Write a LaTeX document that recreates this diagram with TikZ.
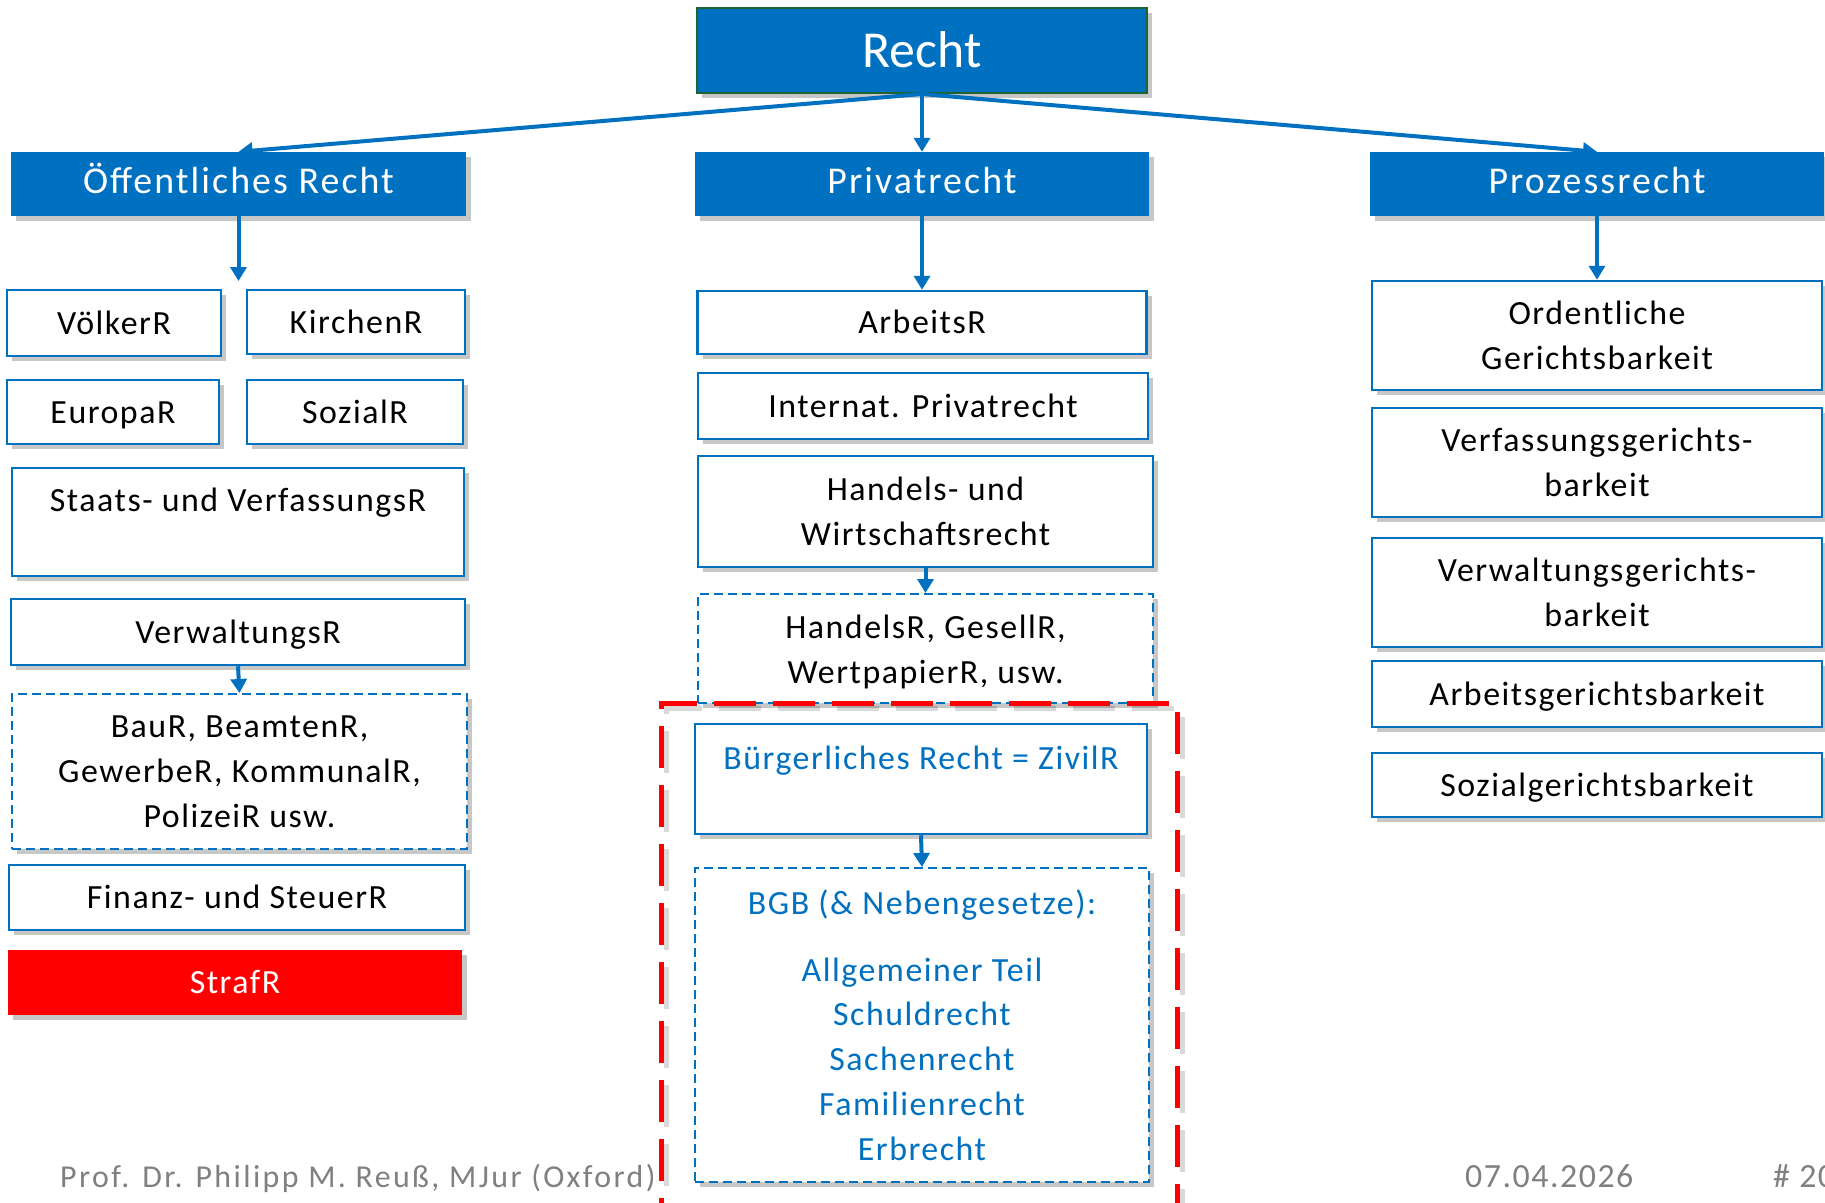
\documentclass[tikz,border=0pt]{standalone}
\usepackage{fontspec}
\setmainfont{Carlito}[LetterSpace=4.5]
\newfontfamily\rechtfont{Carlito}
\newfontfamily\headfont{Carlito}[LetterSpace=5.5]
\newfontfamily\footfont{Carlito}[LetterSpace=7.6]
\usetikzlibrary{shadows,arrows.meta}
\definecolor{mblue}{RGB}{0,112,192}
\definecolor{rgreen}{RGB}{30,100,50}
\definecolor{fgray}{RGB}{128,128,128}
\definecolor{mred}{RGB}{255,0,0}
\tikzset{
 shad/.style={drop shadow={shadow xshift=5bp,shadow yshift=-5bp,opacity=0.22,fill=black}},
 head/.style={fill=mblue, text=white, inner sep=0pt, shad, font=\headfont\fontsize{38}{45}\selectfont, text height=28bp, text depth=10bp},
 wbox/.style={draw=mblue, line width=2.5bp, fill=white, inner sep=0pt, shad, font=\fontsize{34}{45}\selectfont, align=center},
 one/.style={text height=27bp, text depth=5bp},
 dbox/.style={wbox, dash pattern=on 9bp off 5bp, line width=2bp},
 txt/.style={font=\fontsize{34}{45}\selectfont, inner sep=0pt},
 foot/.style={text=fgray, inner sep=0pt, anchor=base west},
 conn/.style={draw=mblue, line width=4bp, -{Triangle[width=16bp,length=14bp]}},
}
\begin{document}
\begin{tikzpicture}[x=1bp,y=-1bp]
\useasboundingbox (0,0) rectangle (1825,1202);
\clip (0,0) rectangle (1825,1202);
% top
\node[head, draw=rgreen, line width=2bp, minimum width=450bp, minimum height=85bp, font=\rechtfont\fontsize{52}{60}\selectfont, text height=40bp, text depth=7bp] (recht) at (922,50.5) {Recht};
\node[head, minimum width=455bp, minimum height=64bp] (oeff) at (238.5,184) {Öffentliches Recht};
\node[head, minimum width=454bp, minimum height=64bp] (privat) at (922,184) {Privatrecht};
\node[head, minimum width=454bp, minimum height=64bp] (proz) at (1597,184) {Prozessrecht};
% left column
\node[wbox, one, minimum width=214bp, minimum height=66bp] (voelker) at (114,323) {VölkerR};
\node[wbox, one, minimum width=218bp, minimum height=64bp] (kirchen) at (356,322) {KirchenR};
\node[wbox, one, minimum width=212bp, minimum height=64bp] (europa) at (113,412) {EuropaR};
\node[wbox, one, minimum width=216bp, minimum height=64bp] (sozial) at (355,412) {SozialR};
\node[wbox, minimum width=452bp, minimum height=108bp] (staats) at (238,522) {};
\node[txt, anchor=base] (staatsT) at (238,511) {Staats- und VerfassungsR};
\node[wbox, one, minimum width=454bp, minimum height=66bp] (verw) at (238,632) {VerwaltungsR};
\node[dbox, minimum width=455bp, minimum height=155bp] (bau) at (239.5,771.5) {BauR, BeamtenR,\\GewerbeR, KommunalR,\\PolizeiR usw.};
\node[wbox, one, minimum width=456bp, minimum height=65bp] (finanz) at (237,897.5) {Finanz- und SteuerR};
\node[fill=mred, text=white, inner sep=0pt, shad, font=\fontsize{34}{45}\selectfont, one, minimum width=454bp, minimum height=65bp] (straf) at (235,982.5) {StrafR};
% middle column
\node[wbox, one, minimum width=449bp, minimum height=63bp] (arbeits) at (922,322.5) {ArbeitsR};
\node[wbox, one, minimum width=450bp, minimum height=66bp] (intern) at (923,406) {Internat. Privatrecht};
\node[wbox, minimum width=455bp, minimum height=111bp] (handels) at (925.5,511.5) {Handels- und\\Wirtschaftsrecht};
\node[dbox, minimum width=455bp, minimum height=109bp] (handelsR) at (925.5,648.5) {\rule{0pt}{30bp}HandelsR, GesellR,\\WertpapierR, usw.};
\node[wbox, minimum width=452bp, minimum height=110bp] (buerg) at (921,779) {};
\node[txt, anchor=base, text=mblue] (buergT) at (921,769) {Bürgerliches Recht = ZivilR};
\node[dbox, minimum width=454bp, minimum height=314bp, text=mblue] (bgb) at (922,1025) {BGB (\& Nebengesetze):\\[22bp]Allgemeiner Teil\\Schuldrecht\\Sachenrecht\\Familienrecht\\Erbrecht};
% right column
\node[wbox, minimum width=450bp, minimum height=109bp] (ord) at (1597,335.5) {Ordentliche\\Gerichtsbarkeit};
\node[wbox, minimum width=450bp, minimum height=109bp] (verfg) at (1597,462.5) {Verfassungsgerichts-\\barkeit};
\node[wbox, minimum width=450bp, minimum height=109bp] (verwg) at (1597,592.5) {Verwaltungsgerichts-\\barkeit};
\node[wbox, one, minimum width=450bp, minimum height=66bp] (arbg) at (1597,694) {Arbeitsgerichtsbarkeit};
\node[wbox, one, minimum width=450bp, minimum height=64bp] (sozg) at (1597,785) {Sozialgerichtsbarkeit};
% red dashed frame (with soft shadow)
\draw[black, opacity=0.15, line width=5bp, dash pattern=on 42bp off 17bp] (666,1245) -- (666,708) -- (1182,708) -- (1182,1245);
\draw[mred, line width=5bp, dash pattern=on 42bp off 17bp] (661,1240) -- (661,703) -- (1177,703) -- (1177,1240);
% connectors
\coordinate (oeffEnd) at (238.5,281);
\draw[conn] (recht.south) -- (oeff.north);
\draw[conn] (recht.south) -- (privat.north);
\draw[conn] (recht.south) -- (proz.north);
\draw[conn] (oeff.south) -- (oeffEnd);
\draw[conn] (privat.south) -- (arbeits.north);
\draw[conn] (proz.south) -- (ord.north);
\draw[conn] (verw.south) -- (bau.north);
\draw[conn] (handels.south) -- (handelsR.north);
\draw[conn] (buerg.south) -- (bgb.north);
% footer
\node[foot, font=\footfont\fontsize{32}{38}\selectfont] (author) at (60,1187) {Prof. Dr. Philipp M. Reuß, MJur (Oxford)};
\node[foot, font=\fontsize{34}{40}\selectfont] (date) at (1465,1187) {07.04.2026};
\node[foot, font=\fontsize{34}{40}\selectfont] (page) at (1773,1187) {\# 20};
\end{tikzpicture}
\end{document}
